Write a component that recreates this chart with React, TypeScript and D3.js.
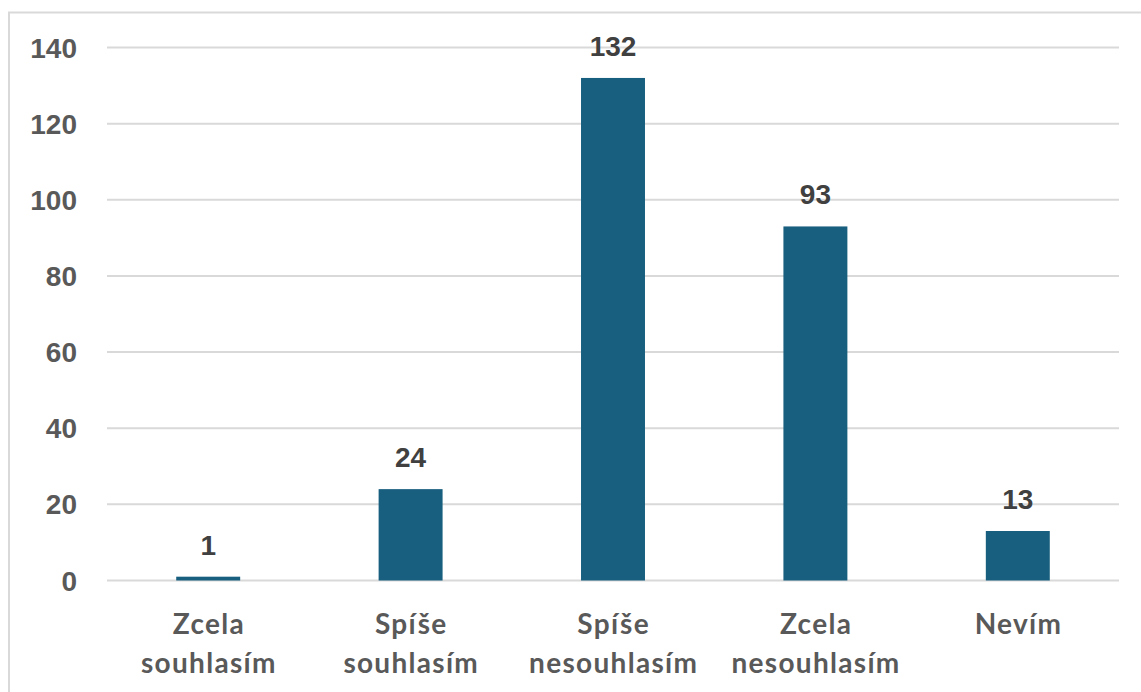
import React from "react";
import * as d3 from "d3";

const categories: string[][] = [
  ["Zcela", "souhlasím"],
  ["Spíše", "souhlasím"],
  ["Spíše", "nesouhlasím"],
  ["Zcela", "nesouhlasím"],
  ["Nevím"],
];
const values: number[] = [1, 24, 132, 93, 13];
const yTicks: number[] = [0, 20, 40, 60, 80, 100, 120, 140];

const W = 1141;
const H = 692;
const plotLeft = 107;
const plotRight = 1119;
const yZero = 580.5;
const yTop = 47.5;

export default function App() {
  const keys = categories.map((c) => c.join(" "));
  const x = d3.scaleBand<string>().domain(keys).range([plotLeft, plotRight]).paddingInner(0.684).paddingOuter(0.342);
  const y = d3.scaleLinear().domain([0, 140]).range([yZero, yTop]);
  const numFont = "'Liberation Sans', Arial, sans-serif";
  const catFont = "Lato, 'Noto Sans', sans-serif";
  const ls = 1.3;
  return (
    <svg
      width={W}
      height={H}
      style={{ position: "absolute", left: 0, top: 0, background: "#fff" }}
    >
      <rect x={9} y={12.5} width={W + 20} height={H + 20} fill="#fff" stroke="#d9d9d9" strokeWidth={2} />
      {yTicks.map((t) => (
        <g key={t}>
          <line x1={plotLeft} x2={plotRight} y1={y(t)} y2={y(t)} stroke="#d9d9d9" strokeWidth={2} />
          <text
            x={77}
            y={y(t)}
            dy="0.36em"
            textAnchor="end"
            fontFamily={numFont}
            fontWeight="bold"
            fontSize={28}
            fill="#595959"
          >
            {t}
          </text>
        </g>
      ))}
      {values.map((v, i) => {
        const k = keys[i];
        const bx = x(k) as number;
        const bw = x.bandwidth();
        return (
          <g key={k}>
            <rect x={bx} y={y(v)} width={bw} height={yZero - y(v)} fill="#175e7f" />
            <text
              x={bx + bw / 2}
              y={y(v) - 22}
              textAnchor="middle"
              fontFamily={numFont}
              fontWeight="bold"
              fontSize={28}
              fill="#404040"
            >
              {v}
            </text>
            {categories[i].map((line, j) => (
              <text
                key={j}
                x={bx + bw / 2 + ls / 2}
                y={634 + j * 39}
                textAnchor="middle"
                fontFamily={catFont}
                fontWeight="bold"
                fontSize={28}
                letterSpacing={ls}
                fill="#595959"
              >
                {line}
              </text>
            ))}
          </g>
        );
      })}
    </svg>
  );
}
